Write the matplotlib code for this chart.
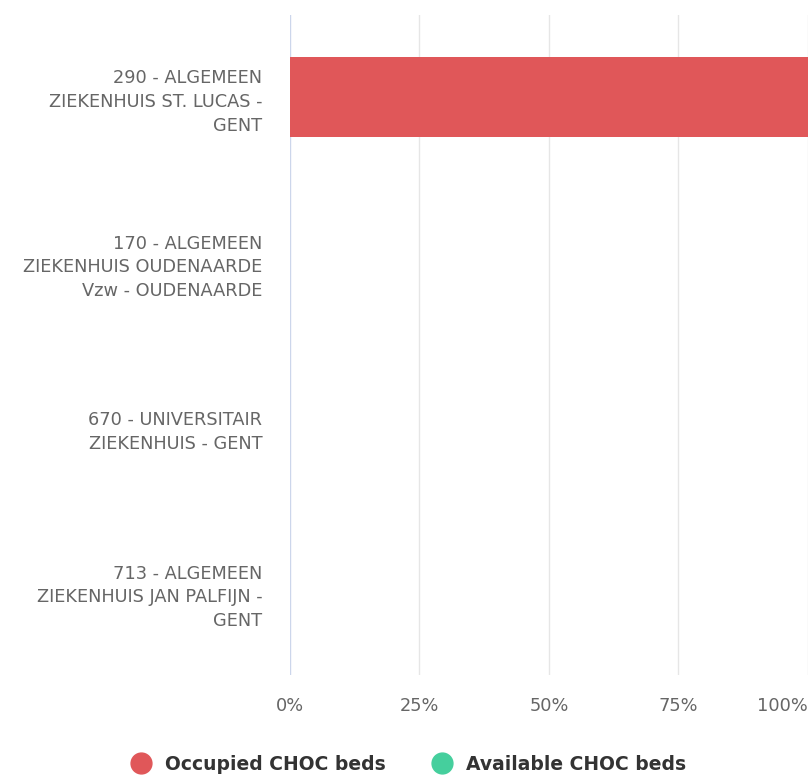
import matplotlib.pyplot as plt
import numpy as np

hospitals = [
    "290 - ALGEMEEN\nZIEKENHUIS ST. LUCAS -\nGENT",
    "170 - ALGEMEEN\nZIEKENHUIS OUDENAARDE\nVzw - OUDENAARDE",
    "670 - UNIVERSITAIR\nZIEKENHUIS - GENT",
    "713 - ALGEMEEN\nZIEKENHUIS JAN PALFIJN -\nGENT",
]
occupied_pct = [100, 0, 0, 0]
available_pct = [0, 0, 0, 0]
xticks = [0, 25, 50, 75, 100]

RED = "#e05759"
GREEN = "#45cf9d"

fig = plt.figure(figsize=(8.1, 7.76), dpi=100)
ax = fig.add_axes([0.358, 0.130, 0.6395, 0.851])

y = np.arange(len(hospitals))
ax.barh(y, occupied_pct, height=0.485, color=RED, linewidth=0, zorder=3)
ax.barh(y, available_pct, left=occupied_pct, height=0.485, color=GREEN, linewidth=0, zorder=3)

ax.set_ylim(len(hospitals) - 0.5, -0.5)
ax.set_xlim(0, 100)
ax.set_yticks(y)
ax.set_yticklabels(hospitals, fontsize=12.8, color="#666666", linespacing=1.4)
ax.set_xticks(xticks)
labels = ax.set_xticklabels([f"{t}%" for t in xticks], fontsize=12.8, color="#666666")
labels[-1].set_horizontalalignment("right")
ax.tick_params(axis="both", length=0)
ax.tick_params(axis="y", pad=20)
ax.tick_params(axis="x", pad=16)

for t in xticks[1:]:
    ax.axvline(t, color="#e6e6e6", lw=1, zorder=1)
ax.axvline(0, color="#ccd6eb", lw=1, zorder=2)
for s in ax.spines.values():
    s.set_visible(False)

handles = [
    plt.Line2D([], [], marker="o", ls="", ms=15, color=RED, label="Occupied CHOC beds"),
    plt.Line2D([], [], marker="o", ls="", ms=15, color=GREEN, label="Available CHOC beds"),
]
fig.legend(handles=handles, loc="center", bbox_to_anchor=(0.499, 0.015), ncol=2,
           frameon=False, handletextpad=0.3, columnspacing=2.0,
           prop={"size": 13.5, "weight": "semibold"}, labelcolor="#333333")

fig.savefig("out.png", dpi=100)
